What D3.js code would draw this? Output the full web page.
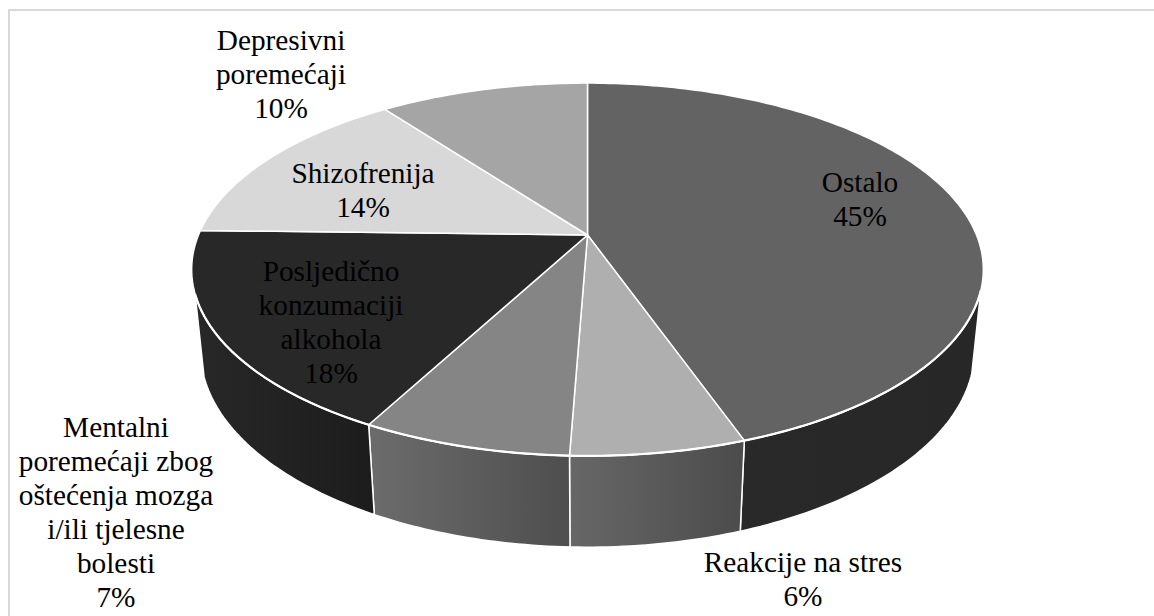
<!DOCTYPE html>
<html>
<head>
<meta charset="utf-8">
<script src="https://cdn.jsdelivr.net/npm/d3@7"></script>
<style>
html, body { margin: 0; padding: 0; background: #fff; }
svg { display: block; }
text { font-family: "Liberation Serif", serif; font-size: 29.3px; fill: #000; text-anchor: middle; }
</style>
</head>
<body>
<svg width="1154" height="616"></svg>
<script>
var categories = ['Ostalo', 'Reakcije na stres', 'Mentalni poremećaji zbog oštećenja mozga i/ili tjelesne bolesti',
    'Posljedično konzumaciji alkohola', 'Shizofrenija', 'Depresivni poremećaji'];
var values = [44.6, 6.0, 7.2, 17.6, 14.4, 10.2];
var labelLines = [
    ['Ostalo'],
    ['Reakcije na stres'],
    ['Mentalni', 'poremećaji zbog', 'oštećenja mozga', 'i/ili tjelesne', 'bolesti'],
    ['Posljedično', 'konzumaciji', 'alkohola'],
    ['Shizofrenija'],
    ['Depresivni', 'poremećaji']
];
var topColors = ['#636363', '#afafaf', '#858585', '#282828', '#d8d8d8', '#a5a5a5'];
var wallFrom = ['#292929', '#676767', '#6b6b6b', '#272727', '#d8d8d8', '#a5a5a5'];
var wallTo = ['#272727', '#4c4c4c', '#4e4e4e', '#1c1c1c', '#d8d8d8', '#a5a5a5'];
var labelCentres = [[860, 200], [803, 580], [116, 513], [331, 323], [363, 191], [281, 75]];

var svg = d3.select('svg');

// chart frame is cropped, only its top and left edges are in the picture
svg.append('rect')
    .attr('x', 9).attr('y', 10)
    .attr('width', 1200).attr('height', 650)
    .attr('fill', 'none')
    .attr('stroke', '#d9d9d9')
    .attr('stroke-width', 2);

// pie laid on a tilted plane, projected by hand since d3 has no 3d pie
var cx = 587.5, cy = 235;
var A = 389, B = 180, C = 81.3, p = 0.185, q = 0.022;
var wallStart = 107 * Math.PI / 180, wallEnd = 252 * Math.PI / 180;

function project(theta, r, depth) {
    var w = r * Math.cos(theta);
    var s = 1 / (1 + p * w + q * depth);
    return [cx + A * r * Math.sin(theta) * s, cy + (C * depth - B * w) * s];
}

function sweep(a0, a1, depth) {
    var n = Math.max(2, Math.ceil((a1 - a0) * 60));
    return d3.range(n + 1).map(function(i) {
        return project(a0 + (a1 - a0) * i / n, 1, depth);
    });
}

var line = d3.line();
var pie = d3.pie().sort(null)(values);
var defs = svg.append('defs');

pie.forEach(function(d) {
    var a0 = Math.max(d.startAngle, wallStart);
    var a1 = Math.min(d.endAngle, wallEnd);
    d.hasWall = a1 > a0;
    if (!d.hasWall) return;
    d.wall = line(sweep(a0, a1, 0).concat(sweep(a0, a1, 1).reverse())) + 'Z';
    d.rim = line(sweep(a0, a1, 0));
    var grad = defs.append('linearGradient')
        .attr('id', 'wall' + d.index)
        .attr('gradientUnits', 'userSpaceOnUse')
        .attr('x1', project(a0, 1, 1)[0]).attr('x2', project(a1, 1, 1)[0])
        .attr('y1', 0).attr('y2', 0);
    grad.append('stop').attr('offset', 0).attr('stop-color', wallTo[d.index]);
    grad.append('stop').attr('offset', 1).attr('stop-color', wallFrom[d.index]);
});

var walled = pie.filter(function(d) { return d.hasWall; });

svg.append('g').selectAll('path')
    .data(walled)
    .enter()
    .append('path')
    .attr('d', function(d) { return d.wall; })
    .attr('fill', function(d) { return 'url(#wall' + d.index + ')'; })
    .attr('stroke', '#fff')
    .attr('stroke-width', 1.5)
    .attr('stroke-linejoin', 'round');

svg.append('g').selectAll('path')
    .data(pie)
    .enter()
    .append('path')
    .attr('d', function(d) {
        return line([[cx, cy]].concat(sweep(d.startAngle, d.endAngle, 0))) + 'Z';
    })
    .attr('fill', function(d) { return topColors[d.index]; })
    .attr('stroke', '#fff')
    .attr('stroke-width', 1.5)
    .attr('stroke-linejoin', 'round');

// the front rim reads a bit heavier than the slice edges
svg.append('g').selectAll('path')
    .data(walled)
    .enter()
    .append('path')
    .attr('d', function(d) { return d.rim; })
    .attr('fill', 'none')
    .attr('stroke', '#fff')
    .attr('stroke-width', 2.2);

var lineGap = 34;
var labels = svg.append('g').selectAll('text')
    .data(pie)
    .enter()
    .append('text')
    .attr('transform', function(d) {
        var c = labelCentres[d.index];
        return 'translate(' + c[0] + ',' + c[1] + ')';
    });

labels.each(function(d) {
    var rows = labelLines[d.index].concat([d3.format('.0f')(d.value) + '%']);
    d3.select(this).selectAll('tspan')
        .data(rows)
        .enter()
        .append('tspan')
        .attr('x', 0)
        .attr('y', function(r, i) { return (i - (rows.length - 1) / 2) * lineGap + 9; })
        .text(function(r) { return r; });
});
</script>
</body>
</html>
